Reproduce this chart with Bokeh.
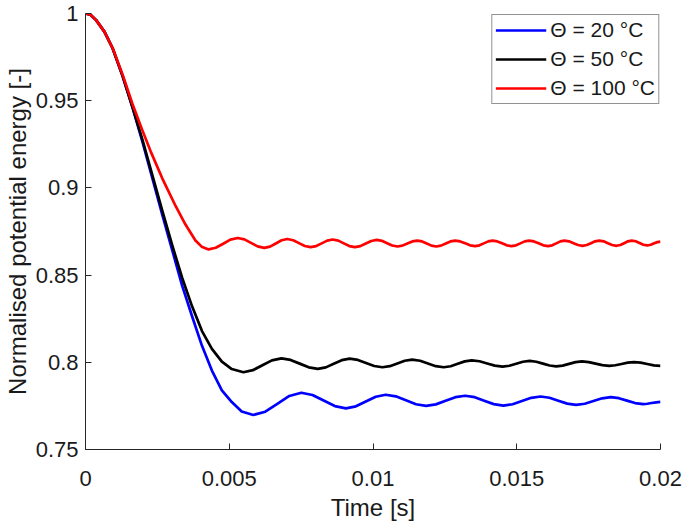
from bokeh.plotting import figure
from bokeh.models import Range1d, FixedTicker, CustomJSTickFormatter
from bokeh.embed import file_html
from bokeh.resources import INLINE

# ---------------- data ----------------
x_ticks = [0, 0.005, 0.01, 0.015, 0.02]
x_tick_labels = ["0", "0.005", "0.01", "0.015", "0.02"]
y_ticks = [0.75, 0.8, 0.85, 0.9, 0.95, 1.0]
y_tick_labels = ["0.75", "0.8", "0.85", "0.9", "0.95", "1"]

series_labels = ["\u0398 = 20 \u00b0C", "\u0398 = 50 \u00b0C", "\u0398 = 100 \u00b0C"]
series_colors = ["#0000ff", "#000000", "#ff0000"]

t_20 = [0, 0.000173, 0.00037, 0.000656, 0.000943, 0.001288, 0.001634, 0.001979, 0.002325, 0.00267,
        0.003016, 0.003361, 0.003707, 0.004052, 0.004397, 0.004743, 0.005088, 0.005433, 0.005837,
        0.006254, 0.006672, 0.007089, 0.007506,
        0.007895, 0.008283, 0.008672, 0.00906,
        0.009405, 0.009751, 0.010096, 0.010441,
        0.010793, 0.011144, 0.011496, 0.011847,
        0.012187, 0.012526, 0.012866, 0.013205,
        0.013537, 0.013868, 0.0142, 0.014531,
        0.014856, 0.015181, 0.015505, 0.01583,
        0.016138, 0.016447, 0.016755, 0.017063,
        0.017365, 0.017668, 0.01797, 0.018272,
        0.018553, 0.018833, 0.019114, 0.019394,
        0.01954, 0.01969, 0.01985, 0.02]
e_20 = [1.0, 0.99932, 0.99621, 0.98959, 0.98008, 0.96423, 0.94612, 0.92659, 0.90565, 0.88471,
        0.86433, 0.84396, 0.82641, 0.80943, 0.79528, 0.78396, 0.7772, 0.77179, 0.76981,
        0.77168, 0.77618, 0.78068, 0.78254,
        0.78123, 0.77807, 0.77491, 0.7736,
        0.77475, 0.77751, 0.78027, 0.78141,
        0.78047, 0.77821, 0.77595, 0.77501,
        0.77587, 0.77793, 0.77999, 0.78084,
        0.78001, 0.77801, 0.77601, 0.77518,
        0.77595, 0.77779, 0.77963, 0.78039,
        0.77969, 0.77799, 0.77629, 0.77558,
        0.77623, 0.77779, 0.77935, 0.78,
        0.77942, 0.77802, 0.77662, 0.77603,
        0.77623, 0.77667, 0.77705, 0.77734]

t_50 = [0, 0.000173, 0.00037, 0.000656, 0.000943, 0.001288, 0.001634, 0.001979, 0.002325, 0.00267,
        0.003016, 0.003361, 0.003707, 0.004052, 0.004397, 0.004743, 0.005088, 0.005492,
        0.005823, 0.006154, 0.006484, 0.006815,
        0.007132, 0.007449, 0.007765, 0.008082,
        0.008359, 0.008635, 0.008912, 0.009188,
        0.009473, 0.009758, 0.010042, 0.010327,
        0.010586, 0.010846, 0.011105, 0.011364,
        0.011638, 0.011912, 0.012185, 0.012459,
        0.012703, 0.012948, 0.013192, 0.013436,
        0.013704, 0.013972, 0.014239, 0.014507,
        0.014743, 0.014979, 0.015214, 0.01545,
        0.015681, 0.015911, 0.016142, 0.016372,
        0.016597, 0.016821, 0.017046, 0.01727,
        0.017506, 0.017742, 0.017977, 0.018213,
        0.018429, 0.018645, 0.01886, 0.019076,
        0.019307, 0.019538, 0.019769, 0.02]
e_50 = [1.0, 0.99932, 0.99621, 0.98959, 0.98008, 0.96423, 0.9464, 0.92772, 0.90735, 0.88697,
        0.86716, 0.84848, 0.83207, 0.81792, 0.80773, 0.80037, 0.79613, 0.79431,
        0.79548, 0.79828, 0.80108, 0.80224,
        0.80136, 0.79924, 0.79712, 0.79624,
        0.7971, 0.79916, 0.80122, 0.80207,
        0.80135, 0.79961, 0.79787, 0.79715,
        0.79779, 0.79933, 0.80087, 0.8015,
        0.80087, 0.79933, 0.79779, 0.79715,
        0.79773, 0.79913, 0.80053, 0.80111,
        0.80059, 0.79933, 0.79807, 0.79754,
        0.79802, 0.79916, 0.8003, 0.80077,
        0.80032, 0.79924, 0.79816, 0.79771,
        0.79812, 0.7991, 0.80008, 0.80048,
        0.80012, 0.79924, 0.79836, 0.79799,
        0.7983, 0.79904, 0.79978, 0.80009,
        0.79978, 0.79902, 0.79826, 0.79794]

t_100 = [0, 0.000173, 0.00037, 0.000656, 0.000943, 0.001288, 0.001634, 0.001979, 0.002262, 0.00267,
         0.003133, 0.003478, 0.003824, 0.004041, 0.004283,
         0.00453, 0.00479, 0.00504, 0.005295,
         0.005526, 0.005756, 0.005987, 0.006217,
         0.006418, 0.00662, 0.006821, 0.007022,
         0.007224, 0.007426, 0.007628, 0.00783,
         0.008023, 0.008215, 0.008408, 0.0086,
         0.008793, 0.008985, 0.009178, 0.00937,
         0.00956, 0.00975, 0.00994, 0.01013,
         0.01031, 0.01049, 0.01067, 0.01085,
         0.011023, 0.011195, 0.011368, 0.01154,
         0.011705, 0.01187, 0.012035, 0.0122,
         0.012365, 0.01253, 0.012695, 0.01286,
         0.013033, 0.013205, 0.013378, 0.01355,
         0.013703, 0.013855, 0.014008, 0.01416,
         0.014325, 0.01449, 0.014655, 0.01482,
         0.014973, 0.015125, 0.015278, 0.01543,
         0.015595, 0.01576, 0.015925, 0.01609,
         0.016233, 0.016375, 0.016518, 0.01666,
         0.016818, 0.016975, 0.017133, 0.01729,
         0.017435, 0.01758, 0.017725, 0.01787,
         0.01802, 0.01817, 0.01832, 0.01847,
         0.018603, 0.018735, 0.018868, 0.019,
         0.019135, 0.01927, 0.019405, 0.01954,
         0.01966, 0.01978, 0.01989, 0.02]
e_100 = [1.0, 0.99932, 0.99621, 0.98959, 0.98019, 0.96508, 0.9481, 0.93299, 0.9211, 0.9055,
         0.88963, 0.879, 0.86982, 0.86631, 0.86473,
         0.86567, 0.868, 0.87033, 0.8713,
         0.87047, 0.86845, 0.86644, 0.8656,
         0.86635, 0.86815, 0.86995, 0.8707,
         0.87001, 0.86835, 0.86669, 0.866,
         0.86664, 0.8682, 0.86976, 0.8704,
         0.86976, 0.8682, 0.86664, 0.866,
         0.86662, 0.8681, 0.86958, 0.8702,
         0.86964, 0.8683, 0.86696, 0.8664,
         0.8669, 0.8681, 0.8693, 0.8698,
         0.8693, 0.8681, 0.8669, 0.8664,
         0.8669, 0.8681, 0.8693, 0.8698,
         0.86933, 0.8682, 0.86707, 0.8666,
         0.86707, 0.8682, 0.86933, 0.8698,
         0.86933, 0.8682, 0.86707, 0.8666,
         0.86707, 0.8682, 0.86933, 0.8698,
         0.86933, 0.8682, 0.86707, 0.8666,
         0.86707, 0.8682, 0.86933, 0.8698,
         0.86936, 0.8683, 0.86724, 0.8668,
         0.86724, 0.8683, 0.86936, 0.8698,
         0.86936, 0.8683, 0.86724, 0.8668,
         0.86724, 0.8683, 0.86936, 0.8698,
         0.86939, 0.8684, 0.86741, 0.867,
         0.8674, 0.8683, 0.8689, 0.8692]

series_t = [t_20, t_50, t_100]
series_e = [e_20, e_50, e_100]

# ---------------- figure ----------------
FONT = "Liberation Sans"
AX = "#262626"

p = figure(width=685, height=523, output_backend="svg", toolbar_location=None,
           x_range=Range1d(0, 0.02), y_range=Range1d(0.75, 1.0),
           min_border_top=13, min_border_right=25, min_border_left=10, min_border_bottom=10)
p.outline_line_color = None
p.grid.visible = False
p.background_fill_color = "white"
p.border_fill_color = "white"

for t, e, lab, col in zip(series_t, series_e, series_labels, series_colors):
    p.line(t, e, line_color=col, line_width=2.7, line_join="round", legend_label=lab)

fmt_code = """
let best = 0;
for (let i = 0; i < tvals.length; i++) {
  if (Math.abs(tvals[i] - tick) < Math.abs(tvals[best] - tick)) best = i;
}
return tlabs[best];
"""
p.xaxis.ticker = FixedTicker(ticks=x_ticks)
p.yaxis.ticker = FixedTicker(ticks=y_ticks)
p.xaxis.formatter = CustomJSTickFormatter(args=dict(tvals=x_ticks, tlabs=x_tick_labels), code=fmt_code)
p.yaxis.formatter = CustomJSTickFormatter(args=dict(tvals=y_ticks, tlabs=y_tick_labels), code=fmt_code)

for ax in (p.xaxis, p.yaxis):
    ax.axis_line_color = AX
    ax.axis_line_width = 1
    ax.major_tick_line_color = AX
    ax.major_tick_in = 6
    ax.major_tick_out = 0
    ax.minor_tick_line_color = None
    ax.major_label_text_font = FONT
    ax.major_label_text_font_size = "22px"
    ax.major_label_text_color = "#1a1a1a"
    ax.axis_label_text_font = FONT
    ax.axis_label_text_font_size = "24px"
    ax.axis_label_text_font_style = "normal"
    ax.axis_label_text_color = "#1a1a1a"

p.xaxis.axis_label = "Time [s]"
p.yaxis.axis_label = "Normalised potential energy [-]"
p.xaxis.major_label_standoff = 21
p.xaxis.axis_label_standoff = 5
p.yaxis.major_label_standoff = 7
p.yaxis.axis_label_standoff = 2

lg = p.legend[0]
lg.location = "top_right"
lg.margin = 1
lg.padding = 3
lg.spacing = 5
lg.glyph_width = 51
lg.glyph_height = 24
lg.label_height = 24
lg.label_standoff = 4
lg.label_text_font = FONT
lg.label_text_font_size = "21px"
lg.label_text_color = "#1a1a1a"
lg.border_line_color = AX
lg.border_line_width = 1
lg.background_fill_alpha = 1.0

open("out.html", "w").write(file_html(p, INLINE))
